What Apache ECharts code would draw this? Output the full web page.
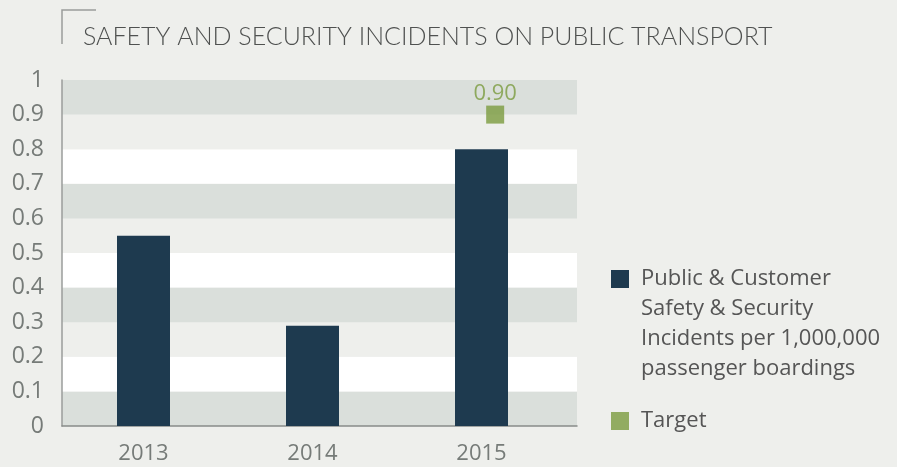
<!DOCTYPE html>
<html>
<head>
<meta charset="utf-8">
<script src="https://cdn.jsdelivr.net/npm/echarts@6/dist/echarts.min.js"></script>
<style>
  html, body { margin: 0; padding: 0; background: #eeefec; }
  #chart { width: 897px; height: 467px; }
</style>
</head>
<body>
<div id="chart"></div>
<script>
// data
var years = ['2013', '2014', '2015'];
var incidents = [0.55, 0.29, 0.80];
var target = [null, null, 0.90];
var barName = 'Public & Customer\nSafety & Security\nIncidents per 1,000,000\npassenger boardings';
var targetName = 'Target';

var chart = echarts.init(document.getElementById('chart'));

var font = 'Open Sans';
var labelGrey = '#767b78';

option = {
    backgroundColor: '#eeefec',
    title: {
        text: 'SAFETY AND SECURITY INCIDENTS ON PUBLIC TRANSPORT',
        left: 83,
        top: 24,
        padding: 0,
        textStyle: { fontFamily: 'Lato', fontSize: 25, fontWeight: 300, color: '#4f5150' }
    },
    graphic: [{
        type: 'polyline',
        shape: { points: [[62, 44], [62, 10], [96, 10]] },
        style: { stroke: '#9a9d9b', lineWidth: 1.5, fill: null }
    }],
    legend: [{
        data: [{ name: barName, icon: 'rect' }],
        left: 611,
        top: 174,
        padding: 0,
        itemWidth: 18,
        itemHeight: 18,
        selectedMode: false,
        // leading blank lines push the first line level with the icon
        formatter: function (name) { return '\n\n\n' + name; },
        textStyle: { fontFamily: font, fontSize: 22, lineHeight: 30, color: '#555', padding: [0, 0, 0, 7] }
    }, {
        data: [{ name: targetName, icon: 'rect' }],
        left: 611,
        top: 406,
        padding: 0,
        itemWidth: 18,
        itemHeight: 18,
        selectedMode: false,
        textStyle: { fontFamily: font, fontSize: 22, lineHeight: 30, color: '#555', padding: [0, 0, 0, 7] }
    }],
    grid: [
        { left: 62, top: 80, width: 515, height: 346 },
        { left: 59, top: 80, width: 507, height: 346 }
    ],
    xAxis: [{
        type: 'category',
        gridIndex: 0,
        data: years,
        axisLine: { lineStyle: { color: '#888c89', width: 1.5 } },
        axisTick: { show: false },
        axisLabel: { show: false }
    }, {
        type: 'category',
        gridIndex: 1,
        data: years,
        axisLine: { show: false },
        axisTick: { show: false },
        axisLabel: { fontFamily: font, fontSize: 22, color: labelGrey, margin: 17 }
    }],
    yAxis: [{
        type: 'value',
        gridIndex: 0,
        min: 0,
        max: 1,
        interval: 0.1,
        axisLine: { show: true, lineStyle: { color: '#9a9d9b', width: 1.5 } },
        axisTick: { show: false },
        splitLine: { show: false },
        splitArea: { show: true, areaStyle: { color: ['#dadfdb', '#ffffff', '#eeefec'] } },
        axisLabel: { fontFamily: font, fontSize: 23, color: labelGrey, margin: 18 }
    }, {
        type: 'value',
        gridIndex: 1,
        min: 0,
        max: 1,
        interval: 0.1,
        show: false
    }],
    series: [{
        name: barName,
        type: 'bar',
        xAxisIndex: 1,
        yAxisIndex: 1,
        data: incidents,
        barWidth: 53,
        itemStyle: { color: '#1e3a4f' }
    }, {
        name: targetName,
        type: 'scatter',
        xAxisIndex: 0,
        yAxisIndex: 0,
        data: target,
        symbol: 'rect',
        symbolSize: 18,
        symbolOffset: [4, 0],
        itemStyle: { color: '#7a9b3e' },
        label: {
            show: true,
            position: 'top',
            distance: 1,
            offset: [0, 0],
            formatter: function (p) { return p.value.toFixed(2); },
            fontFamily: font,
            fontSize: 22,
            color: '#7a9b3e'
        }
    }]
};
chart.setOption(option);
</script>
</body>
</html>
